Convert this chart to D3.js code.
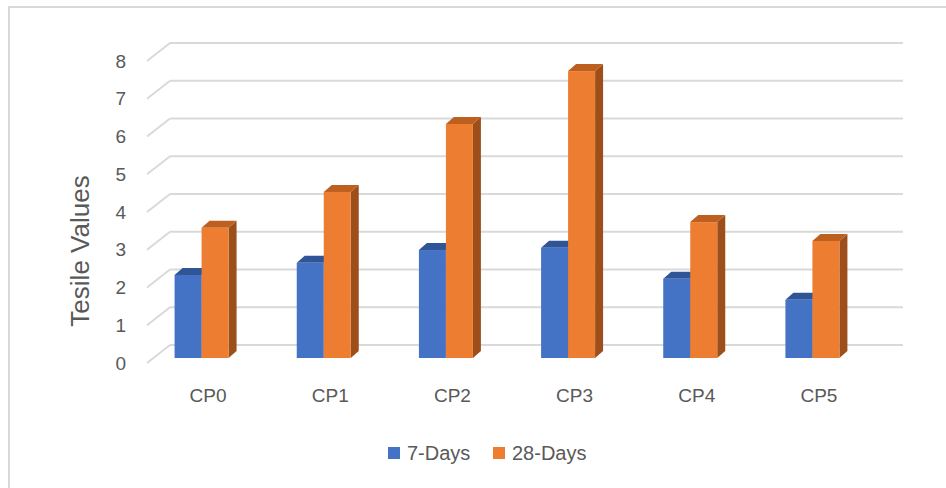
<!DOCTYPE html>
<html>
<head>
<meta charset="utf-8">
<script src="https://cdn.jsdelivr.net/npm/d3@7/dist/d3.min.js"></script>
<style>
  html, body { margin: 0; padding: 0; background: #fff; }
  svg { display: block; }
  text { font-family: "Liberation Sans", Arial, sans-serif; fill: #595959; }
</style>
</head>
<body>
<svg id="chart" width="946" height="488"></svg>
<script>
// Tensile test results per mix
const categories = ["CP0", "CP1", "CP2", "CP3", "CP4", "CP5"];
const days7  = [2.2, 2.52, 2.86, 2.92, 2.1, 1.54];
const days28 = [3.45, 4.4, 6.2, 7.6, 3.6, 3.1];
const seriesNames = ["7-Days", "28-Days"];
const yTicks = [0, 1, 2, 3, 4, 5, 6, 7, 8];

const svg = d3.select("#chart");
const W = 946, H = 488;

// Chart-area border
svg.append("rect")
  .attr("x", 9).attr("y", 7)
  .attr("width", W + 10).attr("height", H + 10)
  .attr("fill", "none").attr("stroke", "#d9d9d9").attr("stroke-width", 2);

// Oblique 3D layout: back wall, floor depth, bar depth
const back = { left: 170, right: 903, bottom: 345, top: 43 };
const depth = { dx: -23, dy: 18 };     // back wall -> front edge of floor
const barFront = { dx: -15, dy: 13 };  // back wall -> front face of bars
const barDepth = { dx: 8, dy: -7 };    // front face -> back face of a bar

const y = d3.scaleLinear().domain([0, 8]).range([back.bottom, back.top]);

const x = d3.scaleBand()
  .domain(categories)
  .range([back.left + depth.dx, back.right + depth.dx])
  .padding(0);

const barW = 27;
const groupShift = -6.5;

// Gridlines on the back wall with their diagonal runs to the floor edge
const grid = svg.append("g");
yTicks.forEach(t => {
  const yy = y(t);
  grid.append("line")
    .attr("x1", back.left).attr("x2", back.right)
    .attr("y1", yy).attr("y2", yy)
    .attr("stroke", "#d9d9d9").attr("stroke-width", 2);
  grid.append("line")
    .attr("x1", back.left).attr("y1", yy)
    .attr("x2", back.left + depth.dx).attr("y2", yy + depth.dy)
    .attr("stroke", "#d9d9d9").attr("stroke-width", 2);
});

// Value axis labels
svg.append("g").selectAll("text")
  .data(yTicks).join("text")
  .attr("x", 126)
  .attr("y", d => y(d) + depth.dy)
  .attr("dy", "0.35em")
  .attr("text-anchor", "end")
  .attr("font-size", 19)
  .text(d => d);

// Axis title
svg.append("text")
  .attr("transform", "translate(89,251) rotate(-90)")
  .attr("text-anchor", "middle")
  .attr("font-size", 26)
  .text("Tesile Values");

// Category labels
svg.append("g").selectAll("text")
  .data(categories).join("text")
  .attr("x", d => x(d) + x.bandwidth() / 2)
  .attr("y", 402)
  .attr("text-anchor", "middle")
  .attr("font-size", 19)
  .text(d => d);

// 3D columns
const series = [
  { name: seriesNames[0], values: days7,  front: "#4472c4", top: "#2f5597", side: "#2f5597", offset: -barW },
  { name: seriesNames[1], values: days28, front: "#ed7d31", top: "#bd5f1f", side: "#9c4f1b", offset: 0 }
];

const bars = svg.append("g");
categories.forEach((c, i) => {
  const cx = x(c) + x.bandwidth() / 2 + groupShift;
  series.forEach(s => {
    const v = s.values[i];
    const xl = cx + s.offset;
    const xr = xl + barW;
    const yt = y(v) + barFront.dy;
    const yb = y(0) + barFront.dy;
    const g = bars.append("g");
    // side face
    g.append("polygon")
      .attr("points", [[xr, yt], [xr + barDepth.dx, yt + barDepth.dy], [xr + barDepth.dx, yb + barDepth.dy], [xr, yb]].join(" "))
      .attr("fill", s.side);
    // top face
    g.append("polygon")
      .attr("points", [[xl, yt], [xl + barDepth.dx, yt + barDepth.dy], [xr + barDepth.dx, yt + barDepth.dy], [xr, yt]].join(" "))
      .attr("fill", s.top);
    // front face
    g.append("rect")
      .attr("x", xl).attr("y", yt)
      .attr("width", barW).attr("height", yb - yt)
      .attr("fill", s.front);
  });
});

// Legend
const legend = svg.append("g");
const legendItems = [
  { name: seriesNames[0], color: series[0].front, x: 388 },
  { name: seriesNames[1], color: series[1].front, x: 493 }
];
legendItems.forEach(d => {
  legend.append("rect")
    .attr("x", d.x).attr("y", 447)
    .attr("width", 12).attr("height", 12)
    .attr("fill", d.color);
  legend.append("text")
    .attr("x", d.x + 19).attr("y", 453)
    .attr("dy", "0.35em")
    .attr("font-size", 20)
    .text(d.name);
});
</script>
</body>
</html>
